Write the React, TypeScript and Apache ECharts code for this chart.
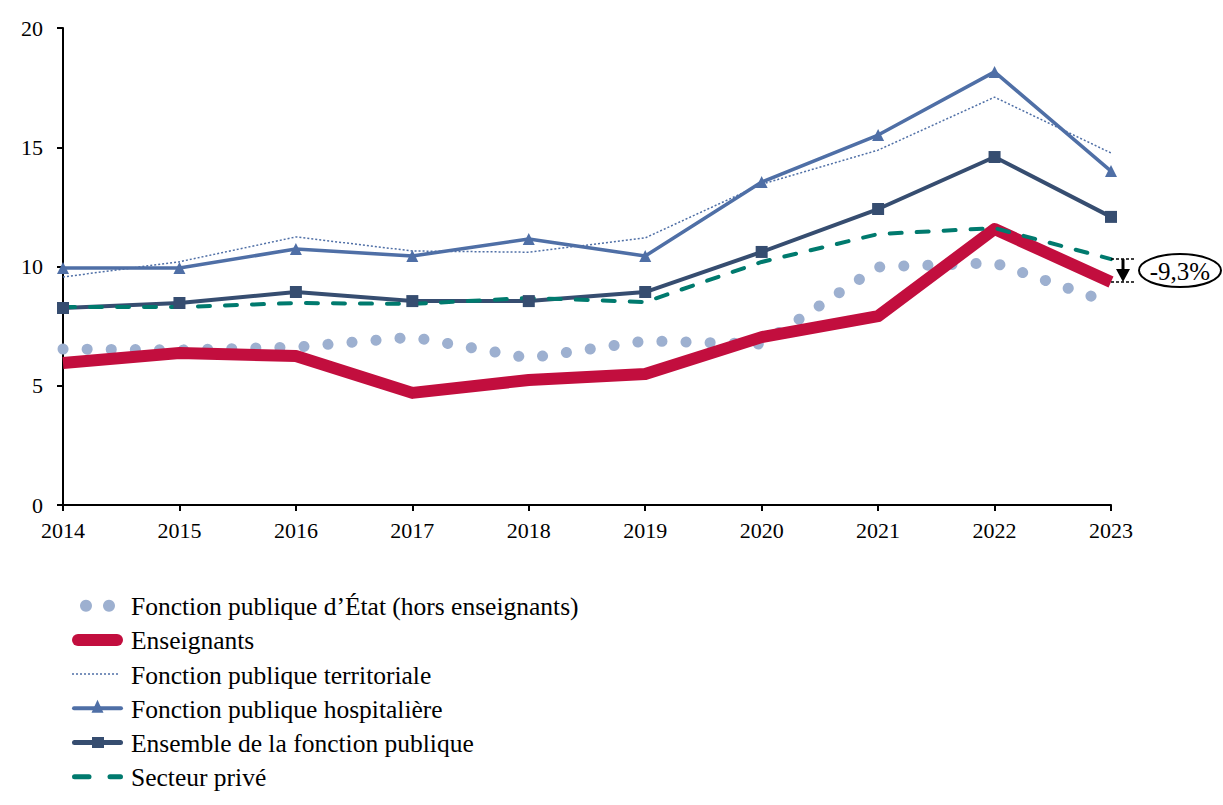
import React, { useEffect, useRef } from "react";
import * as echarts from "echarts";

const years = ["2014", "2015", "2016", "2017", "2018", "2019", "2020", "2021", "2022", "2023"];
const etat = [6.54, 6.5, 6.62, 7.04, 6.16, 6.88, 6.75, 9.98, 10.15, 8.47];
const enseignants = [5.95, 6.37, 6.25, 4.7, 5.24, 5.49, 7.04, 7.92, 11.57, 9.35];
const territoriale = [9.56, 10.2, 11.24, 10.65, 10.6, 11.2, 13.45, 14.88, 17.1, 14.76];
const hospitaliere = [9.94, 9.94, 10.73, 10.44, 11.15, 10.44, 13.54, 15.51, 18.16, 14.0];
const ensemble = [8.26, 8.47, 8.93, 8.55, 8.55, 8.93, 10.61, 12.41, 14.59, 12.08];
const prive = [8.3, 8.3, 8.47, 8.43, 8.68, 8.51, 10.19, 11.36, 11.61, 10.31];
const yTicks = [0, 5, 10, 15, 20];
const seriesNames = [
  "Fonction publique d’État (hors enseignants)",
  "Enseignants",
  "Fonction publique territoriale",
  "Fonction publique hospitalière",
  "Ensemble de la fonction publique",
  "Secteur privé",
];
const gapLabel = "-9,3%";

const FONT = "'Liberation Serif', serif";

export default function App() {
  const ref = useRef<HTMLDivElement>(null);
  useEffect(() => {
    if (!ref.current) return;
    const chart = echarts.init(ref.current, null, { renderer: "svg" });
    const names = seriesNames;
    const C = {
      etat: "#9DB0D0",
      ens: "#C20E3E",
      terr: "#4F6FA6",
      hosp: "#4F6FA6",
      all: "#364D70",
      priv: "#007A6E",
    };
    chart.setOption({
      animation: false,
      grid: { left: 63, right: 112, top: 28, bottom: 300, containLabel: false },
      xAxis: {
        type: "category",
        data: years,
        boundaryGap: false,
        axisLine: { lineStyle: { color: "#000", width: 2 } },
        axisTick: { show: true, length: 6, lineStyle: { color: "#000", width: 2 }, alignWithLabel: true },
        axisLabel: { color: "#000", fontFamily: FONT, fontSize: 22, margin: 14 },
        splitLine: { show: false },
      },
      yAxis: {
        type: "value",
        min: yTicks[0],
        max: yTicks[yTicks.length - 1],
        interval: 5,
        axisLine: { show: true, lineStyle: { color: "#000", width: 2 } },
        axisTick: { show: true, length: 6, lineStyle: { color: "#000", width: 2 } },
        axisLabel: { color: "#000", fontFamily: FONT, fontSize: 22, margin: 20 },
        splitLine: { show: false },
      },
      series: [
        {
          name: names[0],
          type: "line",
          data: etat,
          symbol: "none",
          lineStyle: { color: C.etat, width: 11, type: [0.1, 24], cap: "round" },
          itemStyle: { color: C.etat },
        },
        {
          name: names[1],
          type: "line",
          data: enseignants,
          symbol: "none",
          lineStyle: { color: C.ens, width: 12, cap: "butt", join: "round" },
          itemStyle: { color: C.ens },
        },
        {
          name: names[2],
          type: "line",
          data: territoriale,
          symbol: "none",
          lineStyle: { color: C.terr, width: 1.5, type: [2, 2] },
          itemStyle: { color: C.terr },
        },
        {
          name: names[3],
          type: "line",
          data: hospitaliere,
          symbol: "triangle",
          symbolSize: 12,
          lineStyle: { color: C.hosp, width: 3.5 },
          itemStyle: { color: C.hosp },
        },
        {
          name: names[4],
          type: "line",
          data: ensemble,
          symbol: "rect",
          symbolSize: 12,
          lineStyle: { color: C.all, width: 4 },
          itemStyle: { color: C.all },
        },
        {
          name: names[5],
          type: "line",
          data: prive,
          symbol: "none",
          lineStyle: { color: C.priv, width: 4, type: [12, 15], cap: "round" },
          itemStyle: { color: C.priv },
        },
      ],
    });

    // Annotation computed from data
    const last = years.length - 1;
    const pTop = chart.convertToPixel({ xAxisIndex: 0, yAxisIndex: 0 }, [last, prive[last]]) as number[];
    const pBot = chart.convertToPixel({ xAxisIndex: 0, yAxisIndex: 0 }, [last, enseignants[last]]) as number[];
    const ax = pTop[0] + 12;
    const midY = (pTop[1] + pBot[1]) / 2;

    // Manual legend
    const LX = 72;
    const LW = 51;
    const TX = 131;
    const rowY = (i: number) => 605.7 + i * 34.2;
    const legendEls: any[] = [];
    legendEls.push(
      { type: "circle", shape: { cx: 86, cy: rowY(0), r: 6 }, style: { fill: C.etat } },
      { type: "circle", shape: { cx: 109, cy: rowY(0), r: 6 }, style: { fill: C.etat } }
    );
    legendEls.push({
      type: "line",
      shape: { x1: LX + 6, y1: rowY(1), x2: LX + LW - 6, y2: rowY(1) },
      style: { stroke: C.ens, lineWidth: 12, lineCap: "round" },
    });
    legendEls.push({
      type: "line",
      shape: { x1: LX, y1: rowY(2), x2: LX + 48, y2: rowY(2) },
      style: { stroke: C.terr, lineWidth: 1.5, lineDash: [2, 2] },
    });
    legendEls.push(
      {
        type: "line",
        shape: { x1: LX + 2, y1: rowY(3), x2: LX + LW - 2, y2: rowY(3) },
        style: { stroke: C.hosp, lineWidth: 4, lineCap: "round" },
      },
      {
        type: "polygon",
        shape: { points: [[97.5, rowY(3) - 8.5], [91.5, rowY(3) + 4.5], [103.5, rowY(3) + 4.5]] },
        style: { fill: C.hosp },
      }
    );
    legendEls.push(
      {
        type: "line",
        shape: { x1: LX + 2.5, y1: rowY(4), x2: LX + LW - 2.5, y2: rowY(4) },
        style: { stroke: C.all, lineWidth: 5, lineCap: "round" },
      },
      {
        type: "rect",
        shape: { x: 92, y: rowY(4) - 5.5, width: 12, height: 11 },
        style: { fill: C.all },
      }
    );
    legendEls.push(
      {
        type: "line",
        shape: { x1: LX + 2.5, y1: rowY(5), x2: LX + 17, y2: rowY(5) },
        style: { stroke: C.priv, lineWidth: 5, lineCap: "round" },
      },
      {
        type: "line",
        shape: { x1: LX + 38, y1: rowY(5), x2: LX + LW - 2.5, y2: rowY(5) },
        style: { stroke: C.priv, lineWidth: 5, lineCap: "round" },
      }
    );
    names.forEach((n, i) => {
      legendEls.push({
        type: "text",
        x: TX,
        y: rowY(i) + 1,
        style: {
          text: n,
          fill: "#000",
          font: `25.5px ${FONT}`,
          align: "left",
          verticalAlign: "middle",
        },
      });
    });

    chart.setOption({
      graphic: [
        ...legendEls,
        {
          type: "line",
          shape: { x1: pTop[0], y1: pTop[1], x2: pTop[0] + 24, y2: pTop[1] },
          style: { stroke: "#000", lineWidth: 1.5, lineDash: [3, 2] },
          z: 100,
        },
        {
          type: "line",
          shape: { x1: pBot[0], y1: pBot[1], x2: pBot[0] + 24, y2: pBot[1] },
          style: { stroke: "#000", lineWidth: 1.5, lineDash: [3, 2] },
          z: 100,
        },
        {
          type: "line",
          shape: { x1: ax, y1: pTop[1], x2: ax, y2: pBot[1] - 10 },
          style: { stroke: "#000", lineWidth: 3 },
          z: 100,
        },
        {
          type: "polygon",
          shape: { points: [[ax - 7, pBot[1] - 13], [ax + 7, pBot[1] - 13], [ax, pBot[1]]] },
          style: { fill: "#000" },
          z: 100,
        },
        {
          type: "ellipse",
          shape: { cx: pTop[0] + 69, cy: midY, rx: 41, ry: 16.5 },
          style: { fill: "#fff", stroke: "#000", lineWidth: 2 },
          z: 100,
        },
        {
          type: "text",
          x: pTop[0] + 69,
          y: midY + 1,
          style: {
            text: gapLabel,
            fill: "#000",
            font: `25px ${FONT}`,
            align: "center",
            verticalAlign: "middle",
          },
          z: 101,
        },
      ],
    });

    return () => chart.dispose();
  }, []);
  return <div ref={ref} style={{ width: 1223, height: 805, position: "absolute", left: 0, top: 0 }} />;
}
